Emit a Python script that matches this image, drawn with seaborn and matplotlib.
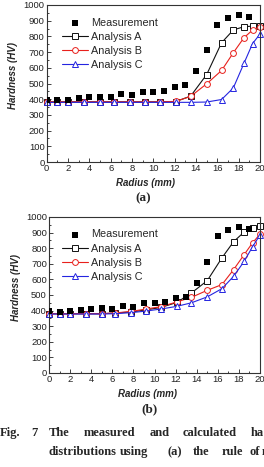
import matplotlib
matplotlib.use("Agg")
import matplotlib.pyplot as plt
import seaborn as sns
import pandas as pd
from matplotlib.ticker import MultipleLocator

# measured hardness (same in both panels)
radius_meas = [0, 1, 2, 3, 4, 5, 6, 7, 8, 9, 10, 11, 12, 13, 14, 15, 16, 17, 18, 19]
hv_meas = [395, 393, 395, 405, 411, 416, 412, 431, 425, 446, 447, 452, 480, 489, 579, 713, 875, 918, 937, 923]

# calculation nodes
radius_calc = [0, 1, 2, 3.5, 5, 6.3, 7.8, 9.2, 10.6, 12.1, 13.5, 15, 16.4, 17.5, 18.5, 19.3, 20]

# (a) rule of mixture
a_hv_A = [383, 383, 383, 383, 383, 383, 383, 383, 383, 385, 420, 557, 760, 841, 862, 865, 864]
a_hv_B = [383, 383, 383, 383, 383, 383, 383, 383, 383, 386, 418, 498, 583, 696, 792, 840, 862]
a_hv_C = [380, 380, 380, 380, 380, 380, 380, 380, 380, 380, 380, 382, 398, 472, 629, 754, 815]

# (b)
b_hv_A = [380, 380, 380, 380, 380, 385, 391, 405, 420, 452, 513, 592, 739, 842, 904, 928, 940]
b_hv_B = [380, 380, 380, 380, 380, 385, 395, 410, 425, 455, 485, 530, 567, 663, 759, 835, 890]
b_hv_C = [378, 378, 378, 378, 378, 380, 387, 397, 410, 427, 450, 488, 541, 620, 716, 810, 885]

series_names = ["Analysis A", "Analysis B", "Analysis C"]
series_colors = ["#111111", "#e8201c", "#2424e0"]
series_markers = ["s", "o", "^"]

sns.set_theme(style="ticks")
plt.rcParams["font.family"] = ["Liberation Sans", "DejaVu Sans"]
SERIF = ["Liberation Serif", "DejaVu Serif"]

W, H = 264, 467
fig = plt.figure(figsize=(W / 100, H / 100), dpi=100)


def px_box(left, top, right, bottom):
    return [left / W, 1 - bottom / H, (right - left) / W, (bottom - top) / H]


def draw_panel(ax, calc_values, label, label_x, label_y, legend_x):
    meas = pd.DataFrame({"r": radius_meas, "hv": hv_meas})
    sns.scatterplot(data=meas, x="r", y="hv", ax=ax, marker="s", s=14,
                    color="black", edgecolor="black", linewidth=0,
                    label="Measurement", zorder=5)
    for name, vals, col, mk in zip(series_names, calc_values, series_colors, series_markers):
        df = pd.DataFrame({"r": radius_calc, "hv": vals})
        sns.lineplot(data=df, x="r", y="hv", ax=ax, color=col, lw=0.8,
                     marker=mk, markersize=4.2 if mk != "s" else 3.8,
                     markerfacecolor="white", markeredgecolor=col,
                     markeredgewidth=0.7, label=name, clip_on=False)
    ax.set_xlim(0, 20)
    ax.set_ylim(0, 1000)
    ax.xaxis.set_major_locator(MultipleLocator(2))
    ax.xaxis.set_minor_locator(MultipleLocator(1))
    ax.yaxis.set_major_locator(MultipleLocator(100))
    ax.yaxis.set_minor_locator(MultipleLocator(50))
    ax.tick_params(which="both", direction="in", labelsize=6.8, pad=1.5,
                   width=0.6, colors="#222222")
    ax.tick_params(which="major", length=2.8)
    ax.tick_params(which="minor", length=1.5)
    for sp in ax.spines.values():
        sp.set_linewidth(0.8)
        sp.set_color("#333333")
    ax.set_xlabel("Radius (mm)", fontsize=7, fontweight="bold", fontstyle="italic")
    ax.set_ylabel("Hardness (HV)", fontsize=7, fontweight="bold", fontstyle="italic")
    ax.xaxis.set_label_coords(0.465, -0.105)
    ax.yaxis.set_label_coords(-0.135, 0.55)
    ax.legend(loc="upper left", bbox_to_anchor=(legend_x, 0.92), frameon=False,
              fontsize=7.8, handlelength=2.4, handletextpad=0.3,
              labelspacing=0.38, borderaxespad=0, borderpad=0)
    fig.text(label_x / W, 1 - label_y / H, label, ha="center", va="center",
             fontsize=9.5, fontweight="bold", family=SERIF)


ax_a = fig.add_axes(px_box(46.7, 5, 260, 162))
draw_panel(ax_a, [a_hv_A, a_hv_B, a_hv_C], "(a)", 143, 198, 0.07)

ax_b = fig.add_axes(px_box(49, 217, 260, 373))
draw_panel(ax_b, [b_hv_A, b_hv_B, b_hv_C], "(b)", 150, 409, 0.06)

# figure caption, justified text running past the page crop
caption_lines = [
    (433, [("Fig.", 0), ("7", 31.5), ("The", 48.3), ("measured", 83.3), ("and", 150),
           ("calculated", 183), ("ha", 251)]),
    (452, [("distributions", 48.3), ("using", 120), ("(a)", 168), ("the", 193),
           ("rule", 222), ("of", 250), ("m", 262)]),
]
for y, words in caption_lines:
    for word, x in words:
        fig.text(x / W, 1 - y / H, word, ha="left", va="center", fontsize=9.0,
                 fontweight="bold", family=SERIF)

fig.savefig("out.png", dpi=100)
